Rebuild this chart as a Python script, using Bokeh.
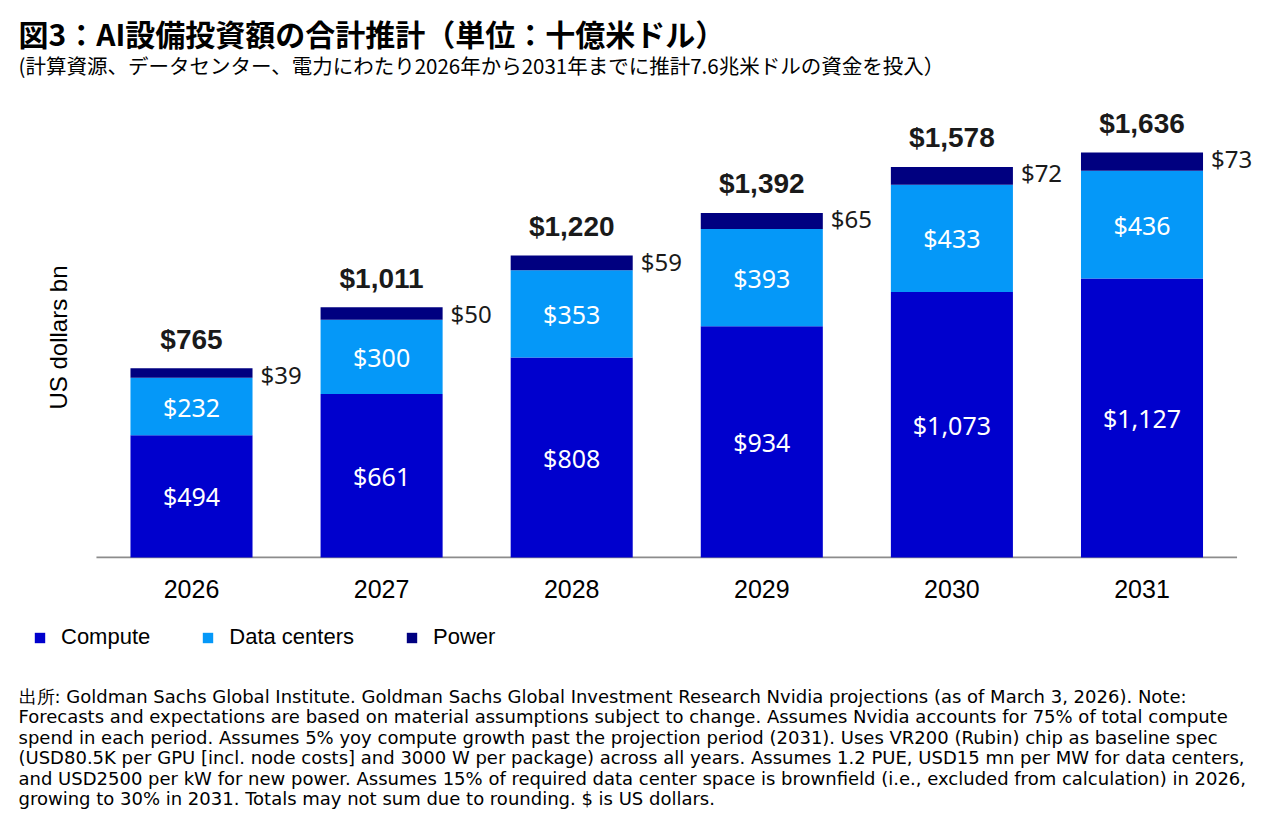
import math
import numpy as np
from bokeh.plotting import figure
from bokeh.layouts import column
from bokeh.models import (ColumnDataSource, Range1d, Label, Legend, LegendItem,
                          FixedTicker)
from bokeh.core.properties import value
from bokeh.embed import file_html
from bokeh.resources import INLINE

# ---------------- data ----------------
years = ["2026", "2027", "2028", "2029", "2030", "2031"]
compute = [494, 661, 808, 934, 1073, 1127]
data_centers = [232, 300, 353, 393, 433, 436]
power = [39, 50, 59, 65, 72, 73]
totals = [765, 1011, 1220, 1392, 1578, 1636]
series_names = ["Compute", "Data centers", "Power"]

title_text = "図3：AI設備投資額の合計推計（単位：十億米ドル）"
subtitle_text = "(計算資源、データセンター、電力にわたり2026年から2031年までに推計7.6兆米ドルの資金を投入）"
y_label = "US dollars bn"
footnote_lines = [
    "出所: Goldman Sachs Global Institute. Goldman Sachs Global Investment Research Nvidia projections (as of March 3, 2026). Note:",
    "Forecasts and expectations are based on material assumptions subject to change. Assumes Nvidia accounts for 75% of total compute",
    "spend in each period. Assumes 5% yoy compute growth past the projection period (2031). Uses VR200 (Rubin) chip as baseline spec",
    "(USD80.5K per GPU [incl. node costs] and 3000 W per package) across all years. Assumes 1.2 PUE, USD15 mn per MW for data centers,",
    "and USD2500 per kW for new power. Assumes 15% of required data center space is brownfield (i.e., excluded from calculation) in 2026,",
    "growing to 30% in 2031. Totals may not sum due to rounding. $ is US dollars.",
]

colors = ["#0000CD", "#0598F8", "#000080"]
stack_cols = ["compute", "data", "power"]

def money(v):
    return "${:,}".format(v)

xpos = np.arange(len(years))
c = np.array(compute, dtype=float)
d = np.array(data_centers, dtype=float)
pw = np.array(power, dtype=float)

src = ColumnDataSource(dict(
    x=xpos, compute=compute, data=data_centers, power=power,
    c_mid=c / 2, d_mid=c + d / 2, top=c + d + pw,
    c_lab=[money(v) for v in compute],
    d_lab=[money(v) for v in data_centers],
    p_lab=[money(v) for v in power],
    t_lab=[money(v) for v in totals],
))

# ---------------- layout geometry (pixels) ----------------
W = 1280
FRAME_H = 558          # main frame spans canvas y 0..558
BASE_PX = 557          # pixel row of value 0
PX_PER_UNIT_Y = 0.2475
CAT_PX = 190.1
FIRST_CENTER_PX = 191.0
MAIN_H = 610

def px2x(px):
    return (px - FIRST_CENTER_PX) / CAT_PX

def px2y(py):
    return (BASE_PX - py) / PX_PER_UNIT_Y

# ---------------- main figure ----------------
p = figure(width=W, height=MAIN_H,
           x_range=Range1d(px2x(0), px2x(W)),
           y_range=Range1d(px2y(FRAME_H), px2y(0)),
           output_backend="svg", toolbar_location=None,
           min_border_left=0, min_border_right=0,
           min_border_top=0, min_border_bottom=MAIN_H - FRAME_H)
p.title.visible = False
p.outline_line_color = None
p.xgrid.grid_line_color = None
p.ygrid.grid_line_color = None
p.yaxis.visible = False
p.background_fill_color = "white"
p.border_fill_color = "white"

xa = p.xaxis[0]
xa.ticker = FixedTicker(ticks=list(xpos))
xa.major_label_overrides = {int(i): y for i, y in zip(xpos, years)}
xa.axis_line_color = None
xa.major_tick_line_color = None
xa.minor_tick_line_color = None
xa.major_label_text_font = "Liberation Sans"
xa.major_label_text_font_size = "25px"
xa.major_label_text_color = "#000000"
xa.major_label_standoff = 15

# baseline
p.segment(x0=[xpos[0] - 0.5], x1=[xpos[-1] + 0.5], y0=[0], y1=[0],
          line_color="#8C8C8C", line_width=2)

rs = p.vbar_stack(stack_cols, x="x", width=0.642,
                  color=colors, line_color=None, source=src)

# inside labels
for col in ("c", "d"):
    p.text(x="x", y=f"{col}_mid", text=f"{col}_lab", source=src,
           text_font=value("Noto Sans"), text_font_size="25px",
           text_color="white", text_align="center", text_baseline="middle")
# power labels to the right of the bars
p.text(x="x", y="top", text="p_lab", source=src, x_offset=69, y_offset=6,
       text_font=value("Noto Sans"), text_font_size="24px",
       text_color="#1a1a1a", text_align="left", text_baseline="middle")
# totals above the bars
p.text(x="x", y="top", text="t_lab", source=src, y_offset=-29,
       text_font=value("Liberation Sans"), text_font_size="28px",
       text_font_style="bold", text_color="#1a1a1a",
       text_align="center", text_baseline="middle")

# title, subtitle, y-axis title
p.add_layout(Label(x=px2x(18), y=px2y(32), text=title_text,
                   text_font="Noto Sans CJK JP", text_font_style="bold",
                   text_font_size="30px", text_color="#000000",
                   text_align="left", text_baseline="middle"))
p.add_layout(Label(x=px2x(18), y=px2y(64), text=subtitle_text,
                   text_font="Noto Sans CJK JP", text_font_size="20.5px",
                   text_color="#000000", text_align="left", text_baseline="middle"))
p.add_layout(Label(x=px2x(58), y=px2y(337), text=y_label, angle=math.pi / 2,
                   text_font="Liberation Sans", text_font_size="24px",
                   text_color="#000000", text_align="center", text_baseline="middle"))

# ---------------- bottom figure: legend + footnote ----------------
TOP2 = MAIN_H
p2 = figure(width=W, height=820 - TOP2,
            x_range=Range1d(0, W), y_range=Range1d(820, TOP2),
            output_backend="svg", toolbar_location=None,
            min_border_left=0, min_border_right=0,
            min_border_top=0, min_border_bottom=0)
p2.title.visible = False
p2.outline_line_color = None
p2.xgrid.grid_line_color = None
p2.ygrid.grid_line_color = None
p2.axis.visible = False
p2.background_fill_color = "white"
p2.border_fill_color = "white"

# hidden series renderers (same data) that feed the legend swatches
leg_rs = [p2.vbar(x="x", top=col, width=0.642, color=clr, line_color=None,
                  source=src, visible=False)
          for col, clr in zip(stack_cols, colors)]
legend = Legend(items=[LegendItem(label=n, renderers=[r]) for n, r in zip(series_names, leg_rs)],
                orientation="horizontal", location=(33, 170),
                glyph_width=13, glyph_height=13, label_standoff=15, spacing=51,
                padding=0, margin=0, border_line_color=None,
                background_fill_alpha=0, inactive_fill_alpha=0,
                label_text_font="Liberation Sans", label_text_font_size="22px",
                label_text_color="#000000")
p2.add_layout(legend, "center")

for i, line in enumerate(footnote_lines):
    p2.add_layout(Label(x=18, y=696 + i * 20.4, text=line,
                        text_font="DejaVu Sans", text_font_size="18px",
                        text_color="#000000", text_align="left", text_baseline="middle"))

layout = column(p, p2, spacing=0)
open("out.html", "w").write(file_html(layout, INLINE))
